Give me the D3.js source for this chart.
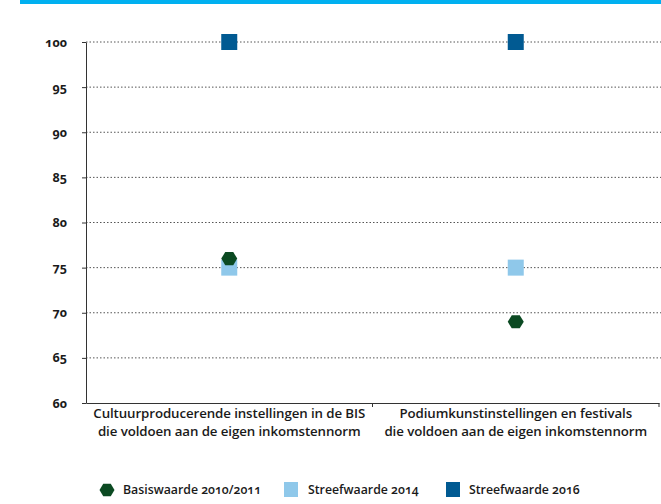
<!DOCTYPE html>
<html><head><meta charset="utf-8">
<script src="https://cdn.jsdelivr.net/npm/d3@7"></script>
<style>
body{margin:0;background:#fff;}
text{font-family:"Open Sans",sans-serif;font-feature-settings:"onum";fill:#1a1a1a;}
</style></head><body>
<svg id="c" width="661" height="504"></svg>
<script>
const categories = ["Cultuurproducerende instellingen in de BIS|die voldoen aan de eigen inkomstennorm",
                    "Podiumkunstinstellingen en festivals|die voldoen aan de eigen inkomstennorm"];
const seriesNames = ["Basiswaarde 2010/2011","Streefwaarde 2014","Streefwaarde 2016"];
const basis2010 = [76, 69];
const streef2014 = [75, 75];
const streef2016 = [100, 100];
const yTicks = [60,65,70,75,80,85,90,95,100];
const colors = ["#0b4a22","#8fc8ea","#015a92"];

const svg = d3.select("#c");
svg.append("rect").attr("x",20).attr("y",0).attr("width",641).attr("height",4).attr("fill","#00b0f0");

const x = d3.scaleBand().domain(categories).range([86,659]);
const y = d3.scaleLinear().domain([60,100]).range([403,42]);

svg.append("g").selectAll("line").data(yTicks.filter(d=>d>60)).join("line")
  .attr("x1",86).attr("x2",661).attr("y1",d=>y(d)).attr("y2",d=>y(d))
  .attr("stroke","#555").attr("stroke-width",1).attr("stroke-dasharray","1.5,2");

const ya = svg.append("g").attr("transform","translate(86,0)")
  .call(d3.axisLeft(y).tickValues(yTicks).tickSize(4).tickSizeOuter(0).tickPadding(15));
ya.select(".domain").attr("stroke","#333");
ya.selectAll(".tick line").attr("stroke","#333");
ya.selectAll("text").attr("font-size",12.5).attr("font-weight",700).attr("fill","#1a1a1a").attr("font-family","Open Sans");

const xa = svg.append("g").attr("transform","translate(0,403)")
  .call(d3.axisBottom(x).tickValues([]).tickSizeOuter(0));
xa.select(".domain").attr("stroke","#333");
svg.append("g").selectAll("line").data([x.range()[0]+x.bandwidth(), x.range()[1]]).join("line")
  .attr("x1",d=>d).attr("x2",d=>d).attr("y1",403).attr("y2",407).attr("stroke","#333");

categories.forEach(c=>{
  const t = svg.append("text").attr("x",x(c)+x.bandwidth()/2).attr("text-anchor","middle")
    .attr("font-size",13.3).attr("font-weight",600).attr("letter-spacing",-0.1);
  c.split("|").forEach((l,i)=>t.append("tspan").attr("x",x(c)+x.bandwidth()/2).attr("y",418+i*17.5).text(l));
});

const hex = (cx,cy,r)=>{
  const pts=d3.range(6).map(i=>{const a=Math.PI/3*i;return [cx+r*Math.cos(a),cy+r*Math.sin(a)*0.95];});
  return "M"+pts.map(p=>p.join(",")).join("L")+"Z";
};
const cx = c=>x(c)+x.bandwidth()/2;
const S=16;
svg.append("g").selectAll("rect").data(categories).join("rect")
  .attr("x",c=>cx(c)-S/2).attr("y",(c,i)=>y(streef2014[i])-S/2).attr("width",S).attr("height",S).attr("fill",colors[1]);
svg.append("g").selectAll("rect").data(categories).join("rect")
  .attr("x",c=>cx(c)-S/2).attr("y",(c,i)=>y(streef2016[i])-S/2).attr("width",S).attr("height",S).attr("fill",colors[2]);
svg.append("g").selectAll("path").data(categories).join("path")
  .attr("d",(c,i)=>hex(cx(c),y(basis2010[i]),8)).attr("fill",colors[0]);

const lg = svg.append("g");
lg.append("path").attr("d",hex(107,490,7.5)).attr("fill",colors[0]);
lg.append("rect").attr("x",284).attr("y",482).attr("width",14).attr("height",15).attr("fill",colors[1]);
lg.append("rect").attr("x",446).attr("y",482).attr("width",14).attr("height",15).attr("fill",colors[2]);
[[123,seriesNames[0]],[308,seriesNames[1]],[469,seriesNames[2]]].forEach(([lx,t])=>
  lg.append("text").attr("x",lx).attr("y",494).attr("font-size",12.3).attr("font-weight",600).text(t));
</script></body></html>
